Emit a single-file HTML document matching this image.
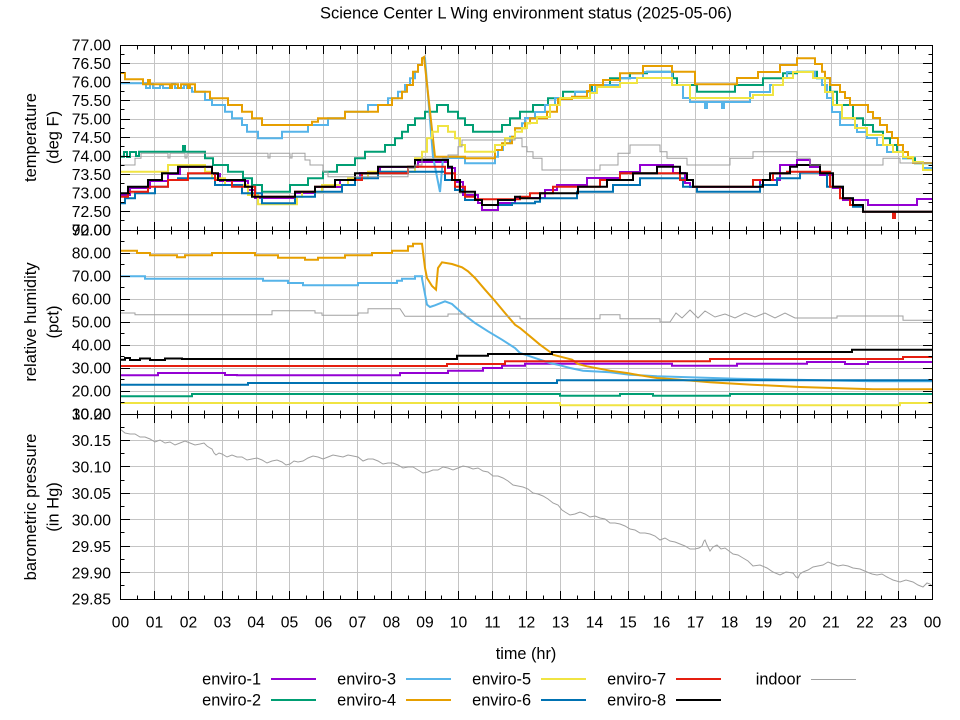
<!DOCTYPE html>
<html>
<head>
<meta charset="utf-8">
<style>
html,body{margin:0;padding:0;background:#fff;}
svg{display:block;}
text{font-family:"Liberation Sans",sans-serif;fill:#000;}
.tl{font-size:15.7px;text-anchor:end;}
.xl{font-size:15.7px;text-anchor:middle;}
.lg{font-size:16.3px;text-anchor:end;}
.d{fill:none;stroke-width:2;stroke-linejoin:miter;}
</style>
</head>
<body>
<svg width="960" height="720" viewBox="0 0 960 720" xmlns="http://www.w3.org/2000/svg">
<defs>
<clipPath id="c1"><rect x="120" y="45" width="813" height="185"/></clipPath>
<clipPath id="c2"><rect x="120" y="230" width="813" height="184"/></clipPath>
<clipPath id="c3"><rect x="120" y="414" width="813" height="185"/></clipPath>
<path id="xt" d="M154.5,0v9M188.5,0v9M222.5,0v9M256.5,0v9M289.5,0v9M323.5,0v9M357.5,0v9M391.5,0v9M425.5,0v9M458.5,0v9M492.5,0v9M526.5,0v9M560.5,0v9M594.5,0v9M628.5,0v9M661.5,0v9M695.5,0v9M729.5,0v9M763.5,0v9M797.5,0v9M831.5,0v9M865.5,0v9M898.5,0v9M137.5,0v4.5M171.5,0v4.5M204.5,0v4.5M238.5,0v4.5M272.5,0v4.5M306.5,0v4.5M340.5,0v4.5M374.5,0v4.5M408.5,0v4.5M441.5,0v4.5M475.5,0v4.5M509.5,0v4.5M543.5,0v4.5M577.5,0v4.5M611.5,0v4.5M644.5,0v4.5M678.5,0v4.5M712.5,0v4.5M746.5,0v4.5M780.5,0v4.5M814.5,0v4.5M847.5,0v4.5M881.5,0v4.5M915.5,0v4.5" stroke="#000" stroke-width="1" fill="none"/>
<path id="yt" d="M0,63.5h10M0,82.5h10M0,100.5h10M0,119.5h10M0,137.5h10M0,156.5h10M0,174.5h10M0,193.5h10M0,211.5h10M0,253.5h10M0,276.5h10M0,299.5h10M0,322.5h10M0,345.5h10M0,368.5h10M0,391.5h10M0,440.5h10M0,466.5h10M0,493.5h10M0,519.5h10M0,546.5h10M0,572.5h10M0,54.5h4.5M0,72.5h4.5M0,91.5h4.5M0,109.5h4.5M0,128.5h4.5M0,146.5h4.5M0,165.5h4.5M0,183.5h4.5M0,202.5h4.5M0,220.5h4.5M0,241.5h4.5M0,264.5h4.5M0,287.5h4.5M0,310.5h4.5M0,333.5h4.5M0,356.5h4.5M0,379.5h4.5M0,402.5h4.5M0,427.5h4.5M0,453.5h4.5M0,480.5h4.5M0,506.5h4.5M0,532.5h4.5M0,559.5h4.5M0,585.5h4.5" stroke="#000" stroke-width="1" fill="none"/>
</defs>

<!-- title -->
<text x="526" y="18.5" style="font-size:16.5px" text-anchor="middle">Science Center L Wing environment status (2025-05-06)</text>

<!-- grid -->
<path d="M154.5,45V599M188.5,45V599M222.5,45V599M256.5,45V599M289.5,45V599M323.5,45V599M357.5,45V599M391.5,45V599M425.5,45V599M458.5,45V599M492.5,45V599M526.5,45V599M560.5,45V599M594.5,45V599M628.5,45V599M661.5,45V599M695.5,45V599M729.5,45V599M763.5,45V599M797.5,45V599M831.5,45V599M865.5,45V599M898.5,45V599
M120,63.5H932M120,82.5H932M120,100.5H932M120,119.5H932M120,137.5H932M120,156.5H932M120,174.5H932M120,193.5H932M120,211.5H932
M120,253.5H932M120,276.5H932M120,299.5H932M120,322.5H932M120,345.5H932M120,368.5H932M120,391.5H932
M120,440.5H932M120,466.5H932M120,493.5H932M120,519.5H932M120,546.5H932M120,572.5H932" stroke="#c4c4c4" stroke-width="1" fill="none"/>

<!-- ===== TOP PANEL: temperature ===== -->
<g clip-path="url(#c1)">
<path class="d" stroke="#9400d3" d="M120,195 H130 V188 H150 V181 H168 V174 H180 V167 H212 V174 H220 V181 H248 V190 H255 V198 H295 V193 H315 V187 H340 V180 H360 V173 H380 V167 H418 V162 H448 V168 H455 V182 H463 V195 H478 V203 H482 V210 H498 V203 H515 V198 H545 V190 H557 V185 H587 V178 H620 V172 H640 V165 H673 V173 H685 V183 H690 V187 H760 V180 H780 V165 H797 V160 H810 V167 H820 V175 H833 V188 H843 V200 H868 V205 H917 V199 H932"/>
<path class="d" stroke="#009e73" d="M120,156.7 H124 V152 H127 V157 H130 V152 H136 V156 H139 V151.7 H183 V146 H185 V151.7 H205 V158.3 H213 V165 H228 V171.7 H243 V178.3 H252 V185 H262 V191.7 H290 V185 H308 V178.3 H323 V171.7 H337 V165 H355 V158.3 H365 V151.7 H385 V145 H395 V138.3 H402 V131.7 H408 V125 H415 V118.3 H425 V111.7 H437 V105 H448 V111.7 H458 V118.3 H465 V125 H473 V131.7 H502 V125 H510 V118.3 H520 V111.7 H533 V105 H548 V98.3 H563 V91.7 H592 V85 H610 V78.3 H630 V73.3 H647 V71.7 H673 V78.3 H677 V85 H697 V91.7 H735 V85 H763 V78.3 H783 V73.3 H797 V71.7 H817 V78.3 H830 V91.7 H837 V105 H853 V118.3 H863 V125 H873 V131.7 H883 V138.3 H890 V145 H897 V151.7 H903 V158.3 H915 V163.3 H932"/>
<path class="d" stroke="#56b4e9" d="M120,83.3 H146 V88 H150 V84 H153 V88 H160 V85 H163 V88 H172 V84 H175 V88 H184 V85 H187 V88 H192 V91.7 H205 V100 H212 V105 H225 V111.7 H232 V118.3 H242 V125 H247 V131.7 H258 V138.3 H282 V131.7 H308 V125 H328 V118.3 H345 V111.7 H368 V105 H388 V98.3 H398 V91.7 H405 V85 H410 V78.3 H415 V71.7 H418 V65 H422 V58.3 H425 L433,156.7 L440,192 L443,158 H465 V163.3 H495 V156.7 H498 V150 H503 V143.3 H510 V136.7 H515 V128.3 H522 V123.3 H525 V118 H535 V112 H545 V105 H555 V98 H575 V92 H595 V85 H620 V78 H643 V72 H672 V85 H683 V98 H690 V102 H705 V108 H707 V102 H722 V108 H724 V102 H750 V92 H770 V85 H783 V78 H787 V72 H815 V78 H822 V85 H827 V98 H832 V112 H840 V125 H857 V132 H867 V138 H877 V145 H887 V152 H903 V158 H913 V163 H923 V168 H932"/>
<path class="d" stroke="#e69f00" d="M120,73 H125 V79.3 H143 V84.3 H148 V80 H150 V84.3 H170 V88 H172 V84.3 H178 V88 H181 V84.3 H188 V88 H190 V84.3 H195 V91.7 H210 V98.3 H228 V105 H242 V111.7 H252 V118.3 H262 V125 H312 V121.7 H318 V118.3 H345 V111.7 H378 V105 H392 V98.3 H402 V91.7 H407 V85 H413 V71.7 H418 V65 H422 V58.3 L424,57 L435,156.7 H465 V158.3 H495 V150 H502 V143.3 H512 V136.7 H515 V128.3 H520 V128.3 H525 V123.3 H530 V118.3 H547 V111.7 H557 V105 H558 V99 H572 V96.7 H587 V91 H590 V85 H603 V80 H620 V73.3 H643 V66 H672 V71.7 H695 V84.3 H737 V78 H758 V72 H780 V65 H797 V58.3 H815 V64 H822 V71.7 H825 V78 H830 V85 H840 V92 H845 V98 H850 V105 H868 V112 H873 V118 H880 V125 H887 V132 H892 V138 H898 V145 H903 V152 H908 V158 H913 V163 H932"/>
<path class="d" stroke="#f0e442" d="M120,171.7 H168 V165 H205 V171.7 H212 V178.3 H225 V185 H248 V195 H258 V204.3 H297 V196.7 H302 V191.7 H322 V185 H348 V178.3 H368 V171.7 H415 V158.3 H422 V151.7 H427 V138.3 H432 V131.7 H438 V126 H448 V131.7 H455 V138.3 H460 V145 H465 V151.7 H495 V145 H505 V138.3 H515 V131.7 H522 V128 H527 V123 H537 V117 H550 V105 H560 V98 H590 V93 H597 V87 H620 V83 H637 V78 H672 V85 H690 V98 H753 V95 H773 V85 H783 V78 H793 V72 H813 V78 H825 V92 H833 V105 H842 V118 H855 V128 H867 V135 H883 V145 H893 V152 H903 V157 H913 V162 H923 V170 H932"/>
<path class="d" stroke="#0072b2" d="M120,203.3 H125 V198.3 H135 V193.3 H155 V186.7 H168 V180 H178 V178.3 H215 V185 H242 V193.3 H262 V203.3 H295 V196.7 H315 V191.7 H342 V185 H355 V178.3 H378 V171.7 H445 V180 H455 V190 H465 V200 H482 V205 H512 V203.3 H535 V201.7 H540 V198.3 H577 V191.7 H613 V185 H640 V178.3 H683 V186.7 H697 V191.7 H760 V185 H777 V178.3 H800 V172.7 H827 V186.7 H843 V198.3 H853 V206.7 H863 V211.7 H932"/>
<path class="d" stroke="#e51e10" d="M120,196.7 H128 V191.7 H148 V186.7 H168 V180 H188 V173.3 H215 V180 H232 V186.7 H255 V196.7 H295 V191.7 H315 V186.7 H335 V180 H362 V173.3 H408 V166.7 H445 V173.3 H455 V186.7 H465 V196.7 H475 V199.3 H520 V196.7 H530 V193.3 H553 V186.7 H600 V180 H620 V173.3 H680 V180 H693 V186.7 H753 V180 H773 V173.3 H787 V171.7 H830 V186.7 H840 V198.3 H850 V205 H863 V211.7 H893 V218 H895 V211.7 H932"/>
<path class="d" stroke="#000000" d="M120,193.3 H128 V186.7 H148 V180 H162 V173.3 H178 V166.7 H212 V173.3 H218 V180 H245 V186.7 H252 V196.7 H295 V191.7 H315 V186.7 H335 V180 H355 V173.3 H378 V166.7 H415 V160 H448 V166.7 H452 V180 H460 V191.7 H475 V200 H482 V205 H498 V200 H515 V196.7 H520 V198.3 H540 V193.3 H578 V186.7 H607 V180 H633 V173.3 H657 V166.7 H680 V173.3 H687 V180 H693 V186.7 H763 V180 H770 V173.3 H790 V166.7 H797 V165 H820 V173.3 H833 V186.7 H843 V198.3 H853 V205 H863 V211.7 H932"/>
<path fill="none" stroke="#a0a0a0" stroke-width="1" d="M120,165 H135 V158.3 H141 V153.3 H168 V158 H170 V153.3 H185 V158 H187 V153.3 H268 V158 H270 V153.3 H290 V158 H292 V153.3 H305 V160 H310 V165 H323 V171.7 H328 V176.7 H408 V168.3 H415 V165 H422 V158.3 H448 V155 H458 V146.7 H462 V140 H515 V138.3 H522 V146.7 H527 V151.7 H533 V158.3 H542 V170 H600 V165 H618 V153.3 H630 V145 H660 V151.7 H667 V158.3 H687 V165 H730 V158.3 H753 V151.7 H797 V158.3 H810 V165 H883 V158.3 H900 V163 H932"/>
</g>

<!-- ===== MIDDLE PANEL: humidity ===== -->
<g clip-path="url(#c2)">
<path class="d" stroke="#9400d3" d="M120,375.3 H158 V373 H225 V375 H237 V375.3 H400 V373 H448 V370.7 H483 V368 H502 V365.7 H525 V363.7 H672 V365.7 H737 V363.7 H807 V362 H845 V364 H868 V362 H932"/>
<path class="d" stroke="#009e73" d="M120,396.3 H192 V394 H560 V395.7 H620 V394 H653 V395.7 H730 V394 H932"/>
<path class="d" stroke="#56b4e9" d="M120,276.3 H145 V278.7 H263 V280.7 H288 V283 H303 V285.3 H358 V283 H397 V280.7 H402 V278.7 H415 V276.3 H422 V278.7 L427,304.7 L430,307 L435,305.3 L445,301.3 L452,304 L462,313 L475,323 L488,331.3 L502,339.7 L515,348 L520,353 L530,356.3 L540,359.7 L550,363 L560,365.3 L570,368 L583,370.7 L610,372.3 L630,374.7 L657,376.3 L737,378.7 L873,381.3 L932,381.3"/>
<path class="d" stroke="#e69f00" d="M120,250.7 H137 V253 H150 V255.3 H177 V257.3 H185 V255.3 H212 V253 H255 V255.3 H278 V257.7 H305 V259.7 H318 V257.7 H345 V255.3 H372 V253 H392 V250.7 H408 V246.3 H413 V243.7 H422 L425,268 L427,278 L432,286 L436,289.7 L438,268 L442,262.3 L452,264 L462,267.3 L468,271.3 L475,278 L485,289.7 L495,301 L505,313 L515,324.7 L520,328 L530,336.3 L540,344.7 L550,352 L553,354.7 L563,357.3 L572,359.7 L578,364 L587,366.3 L610,370.7 L627,373 L640,375.3 L657,378 L680,379.7 L710,382.3 L752,384.7 L800,387 L873,389.3 L932,389.3"/>
<path class="d" stroke="#f0e442" d="M120,403 H560 V405.3 H900 V403 H932"/>
<path class="d" stroke="#0072b2" d="M120,384.7 H248 V383 H557 V380.3 H932"/>
<path class="d" stroke="#e51e10" d="M120,366 H447 V364 H505 V361.3 H710 V359 H903 V357 H932"/>
<path class="d" stroke="#000000" d="M120,359.7 H125 V358 H130 V360 H140 V358.5 H150 V360 H165 V358.5 H182 V359 H457 V355.7 H488 V354 H552 V352 H852 V349.7 H932"/>
<path fill="none" stroke="#a0a0a0" stroke-width="1" d="M120,313 H135 V314.7 H272 V310.7 H315 V313 H322 V315.3 H358 V313 H368 V308.7 H400 L405,316.3 H448 V314 H465 V316.3 H520 V318.7 H600 V314.7 H620 V318.7 H660 V322 H670 L676,313 L682,318 L690,310 L698,318 L705,311 L715,317 L725,314 L735,318 L745,313 L755,317 L765,313 L775,318 L785,313 L795,318 H837 V316 H903 V320.3 H932"/>
</g>

<!-- ===== BOTTOM PANEL: pressure ===== -->
<g clip-path="url(#c3)">
<polyline fill="none" stroke="#a0a0a0" stroke-width="1" points="120,429 125,433 130,434 135,434 140,437 145,437 150,439 155,442 160,440 165,443 170,442 175,445 180,443 185,441 190,443 195,445 200,444 204,443 207,446 210,448 212,449 214,453 216,455 219,453 222,454 227,457 232,455 237,457 242,457 247,460 252,459 257,458 262,460 267,463 272,461 277,460 282,462 286,465 290,464 294,461 298,462 303,461 308,458 313,456 318,457 323,459 328,457 333,455 338,456 343,457 348,455 353,456 358,457 363,461 368,459 373,459 378,461 383,464 388,463 393,463 398,465 403,468 408,467 413,467 418,470 423,473 428,472 433,470 438,470 443,467 448,468 453,470 458,468 463,466 468,467 473,469 478,468 483,471 488,472 493,476 498,476 503,478 508,481 513,485 518,486 523,487 528,489 533,493 538,494 543,496 548,499 553,503 558,505 562,510 565,512 570,515 575,514 580,512 585,514 590,517 595,516 600,518 605,519 610,523 615,523 620,524 625,526 630,529 635,530 640,533 645,533 650,534 655,536 660,540 665,538 670,541 675,542 680,544 685,546 690,549 695,549 699,548 702,546 704,541 705,540 707,545 710,551 713,547 717,545 721,549 725,548 729,551 733,554 738,555 743,558 748,561 753,566 760,565 767,568 773,572 780,575 786,572 793,573 796,577 798,578 800,574 803,572 808,570 813,567 818,566 823,565 828,562 833,564 838,566 843,565 848,566 853,568 860,569 867,572 872,574 877,575 882,574 887,577 893,580 900,582 906,580 913,582 918,585 923,587 927,583 930,584 932,586"/>
</g>

<!-- frames -->
<path d="M120.5,45.5H932.5V599.5H120.5Z M120.5,230.5H932.5 M120.5,414.5H932.5" stroke="#000" stroke-width="1" fill="none"/>

<!-- ticks -->
<use href="#xt" transform="translate(0,45)"/>
<use href="#xt" transform="translate(0,231) scale(1,-1)"/>
<use href="#xt" transform="translate(0,230)"/>
<use href="#xt" transform="translate(0,415) scale(1,-1)"/>
<use href="#xt" transform="translate(0,414)"/>
<use href="#xt" transform="translate(0,600) scale(1,-1)"/>
<use href="#yt" transform="translate(120,0)"/>
<use href="#yt" transform="translate(933,0) scale(-1,1)"/>

<!-- y tick labels: temperature -->
<g class="tl">
<text x="111" y="50.7">77.00</text>
<text x="111" y="69.2">76.50</text>
<text x="111" y="87.7">76.00</text>
<text x="111" y="106.2">75.50</text>
<text x="111" y="124.7">75.00</text>
<text x="111" y="143.2">74.50</text>
<text x="111" y="161.7">74.00</text>
<text x="111" y="180.2">73.50</text>
<text x="111" y="198.7">73.00</text>
<text x="111" y="217.2">72.50</text>
<text x="111" y="235.7">72.00</text>
<!-- humidity -->
<text x="111" y="235.7">90.00</text>
<text x="111" y="258.7">80.00</text>
<text x="111" y="281.7">70.00</text>
<text x="111" y="304.7">60.00</text>
<text x="111" y="327.7">50.00</text>
<text x="111" y="350.7">40.00</text>
<text x="111" y="373.7">30.00</text>
<text x="111" y="396.7">20.00</text>
<text x="111" y="419.7">10.00</text>
<!-- pressure -->
<text x="111" y="419.7">30.20</text>
<text x="111" y="446.1">30.15</text>
<text x="111" y="472.6">30.10</text>
<text x="111" y="499">30.05</text>
<text x="111" y="525.4">30.00</text>
<text x="111" y="551.8">29.95</text>
<text x="111" y="578.3">29.90</text>
<text x="111" y="604.7">29.85</text>
</g>

<!-- x tick labels -->
<g class="xl">
<text x="120.5" y="627.5">00</text>
<text x="154.5" y="627.5">01</text>
<text x="188.5" y="627.5">02</text>
<text x="222.5" y="627.5">03</text>
<text x="256" y="627.5">04</text>
<text x="289.5" y="627.5">05</text>
<text x="323.5" y="627.5">06</text>
<text x="357.5" y="627.5">07</text>
<text x="391.5" y="627.5">08</text>
<text x="425" y="627.5">09</text>
<text x="458.5" y="627.5">10</text>
<text x="492.5" y="627.5">11</text>
<text x="526.5" y="627.5">12</text>
<text x="560.5" y="627.5">13</text>
<text x="594.5" y="627.5">14</text>
<text x="628" y="627.5">15</text>
<text x="661.5" y="627.5">16</text>
<text x="695.5" y="627.5">17</text>
<text x="729.5" y="627.5">18</text>
<text x="763.5" y="627.5">19</text>
<text x="797.5" y="627.5">20</text>
<text x="831" y="627.5">21</text>
<text x="865" y="627.5">22</text>
<text x="898.5" y="627.5">23</text>
<text x="932.5" y="627.5">00</text>
</g>

<!-- axis labels -->
<text x="526" y="659" style="font-size:16.3px" text-anchor="middle">time (hr)</text>
<g style="font-size:16.5px" text-anchor="middle">
<text transform="translate(36,137.5) rotate(-90)">temperature</text>
<text transform="translate(58.5,137.5) rotate(-90)">(deg F)</text>
<text transform="translate(36,322) rotate(-90)">relative humidity</text>
<text transform="translate(58.5,322) rotate(-90)">(pct)</text>
<text transform="translate(36,507) rotate(-90)">barometric pressure</text>
<text transform="translate(58.5,507) rotate(-90)">(in Hg)</text>
</g>

<!-- legend -->
<g class="lg">
<text x="261" y="684.5">enviro-1</text>
<text x="261" y="705.5">enviro-2</text>
<text x="396" y="684.5">enviro-3</text>
<text x="396" y="705.5">enviro-4</text>
<text x="531" y="684.5">enviro-5</text>
<text x="531" y="705.5">enviro-6</text>
<text x="666" y="684.5">enviro-7</text>
<text x="666" y="705.5">enviro-8</text>
<text x="801" y="684.5">indoor</text>
</g>
<g fill="none" stroke-width="2">
<path d="M271,679H316" stroke="#9400d3"/>
<path d="M271,700H316" stroke="#009e73"/>
<path d="M406,679H451" stroke="#56b4e9"/>
<path d="M406,700H451" stroke="#e69f00"/>
<path d="M541,679H586" stroke="#f0e442"/>
<path d="M541,700H586" stroke="#0072b2"/>
<path d="M676,679H721" stroke="#e51e10"/>
<path d="M676,700H721" stroke="#000000"/>
<path d="M811,679.5H856" stroke="#a0a0a0" stroke-width="1"/>
</g>
</svg>
</body>
</html>
